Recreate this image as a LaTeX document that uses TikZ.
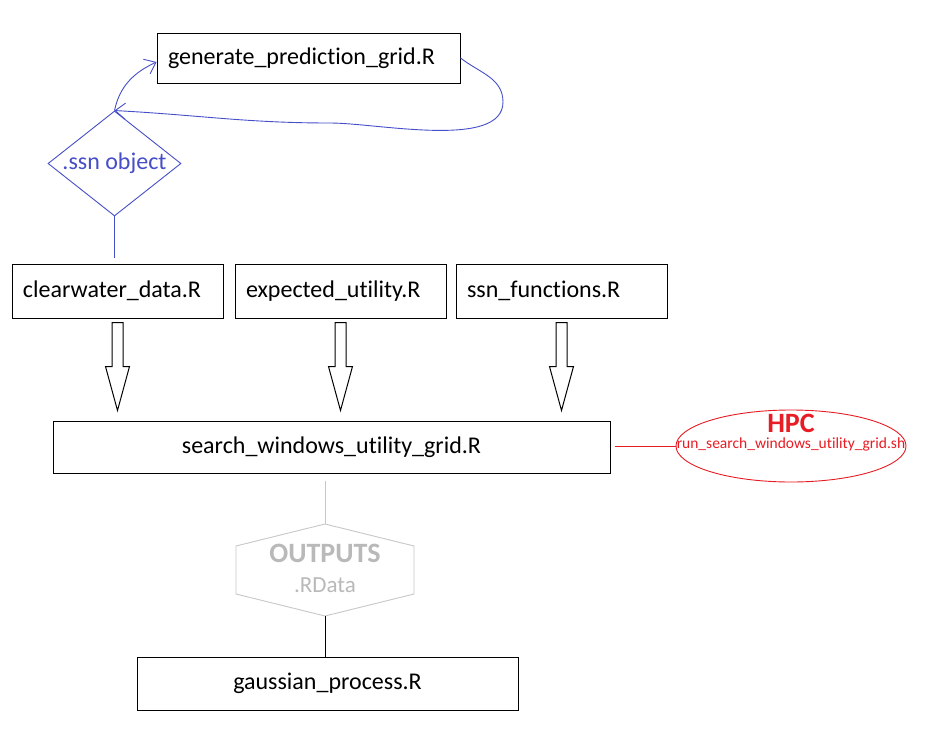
\documentclass[tikz,border=0pt]{standalone}
\usepackage{fontspec}
\setmainfont{Carlito}[Ligatures={NoCommon,NoRequired,NoContextual},RawFeature={-liga;-clig;-dlig}]
\usetikzlibrary{shapes.geometric,arrows.meta,calc}
\definecolor{myblue}{RGB}{70,78,200}
\definecolor{myred}{RGB}{232,28,36}
\definecolor{mygray}{RGB}{200,200,200}
\definecolor{mygraytext}{RGB}{185,185,185}
\newcommand\mainfs{\fontsize{24}{29}\selectfont}
\newcommand\tI{t\kern0pt i}
\begin{document}
\begin{tikzpicture}[x=1pt,y=-1pt,
  filebox/.style={draw=black, line width=1pt, inner xsep=11pt, inner ysep=0pt, align=left, font=\mainfs},
  cfilebox/.style={draw=black, line width=1pt, inner sep=0pt, align=center, font=\mainfs},
  blueline/.style={draw=myblue, line width=0.9pt},
  bluearrow/.style={blueline, -{Straight Barb[length=10pt,width=16pt,line width=0.9pt]}},
  blockarrow/.style={draw=black, line width=1pt, fill=white},
  plain/.style={inner sep=0pt, outer sep=0pt}
]
\fill[white] (0,0) rectangle (930,742);
\useasboundingbox (0,0) rectangle (930,742);

% file boxes
\node[filebox, text width=281pt, minimum height=50pt] (gen) at (308.5,58) {generate\_predic\tI on\_grid.R};
\node[filebox, text width=189pt, minimum height=54pt] (cw) at (117.5,291) {clearwater\_data.R};
\node[filebox, text width=189pt, minimum height=54pt] (eu) at (340.5,291) {expected\_u\tI lity.R};
\node[filebox, text width=189pt, minimum height=54pt] (sf) at (561.5,291) {ssn\_func\tI ons.R};
\node[cfilebox, minimum width=557pt, minimum height=52pt] (sw) at (331.5,447) {search\_windows\_u\tI lity\_grid.R};
\node[cfilebox, minimum width=381pt, minimum height=53pt] (gp) at (327.5,683.5) {gaussian\_process.R};

% ssn object diamond
\node[diamond, draw=myblue, line width=0.9pt, minimum width=133pt, minimum height=105pt, inner sep=0pt] (ssn) at (114.5,163.5) {};
\node[plain, text=myblue, font=\mainfs] (ssnt) at (ssn.center) {.ssn object};

% loop between ssn object and generate_prediction_grid.R
\draw[bluearrow] (ssn.north) to[out=78,in=205] ($(gen.west)+(0,4)$);
\coordinate (loopr) at (503,102);
\coordinate (loopb) at (330,123);
\draw[bluearrow] (gen.east) to[out=-38,in=90] (loopr) to[out=-90,in=0,looseness=0.7] (loopb) to[out=180,in=-3] (ssn.north);
\draw[blueline, shorten >=6pt] (ssn.south) -- (ssn.south |- cw.north);

% block arrows
\foreach \b in {cw,eu,sf}{
  \draw[blockarrow] ($(\b.south)+(-5.5,4)$) -- ($(\b.south)+(-5.5,48)$) -- ($(\b.south)+(-12,48)$)
     -- ($(\b.south)+(0,92)$) -- ($(\b.south)+(12,48)$) -- ($(\b.south)+(5.5,48)$) -- ($(\b.south)+(5.5,4)$) -- cycle;
}

% HPC
\node[ellipse, draw=myred, line width=0.9pt, minimum width=230pt, minimum height=72pt, inner sep=0pt] (hpc) at (791,446) {};
\node[plain, text=myred, font=\fontsize{28}{30}\selectfont\bfseries] (hpct) at (791,423) {HPC};
\node[plain, text=myred, font=\fontsize{15.5}{17}\selectfont] (hpcs) at (791,444) {run\_search\_windows\_u\tI lity\_grid.sh};
\draw[draw=myred, line width=0.9pt, shorten <=4pt] (hpc.west -| sw.east) -- (hpc.west);

% OUTPUTS hexagon
\node[plain, minimum width=178pt, minimum height=92pt] (hex) at (325,570) {};
\draw[draw=mygray, line width=0.9pt] (hex.north) -- ($(hex.north west)+(0,22)$) -- ($(hex.south west)+(0,-22)$)
   -- (hex.south) -- ($(hex.south east)+(0,-22)$) -- ($(hex.north east)+(0,22)$) -- cycle;
\node[plain, text=mygraytext, font=\fontsize{28}{30}\selectfont\bfseries] (outt) at (325,553) {OUTPUTS};
\node[plain, text=mygraytext, font=\fontsize{23}{26}\selectfont] (outd) at (325,585) {.RData};
\draw[draw=mygray, line width=0.9pt, shorten <=7pt] (hex.north |- sw.south) -- (hex.north);
\draw[draw=black, line width=1pt] (hex.south) -- (hex.south |- gp.north);
\end{tikzpicture}
\end{document}
